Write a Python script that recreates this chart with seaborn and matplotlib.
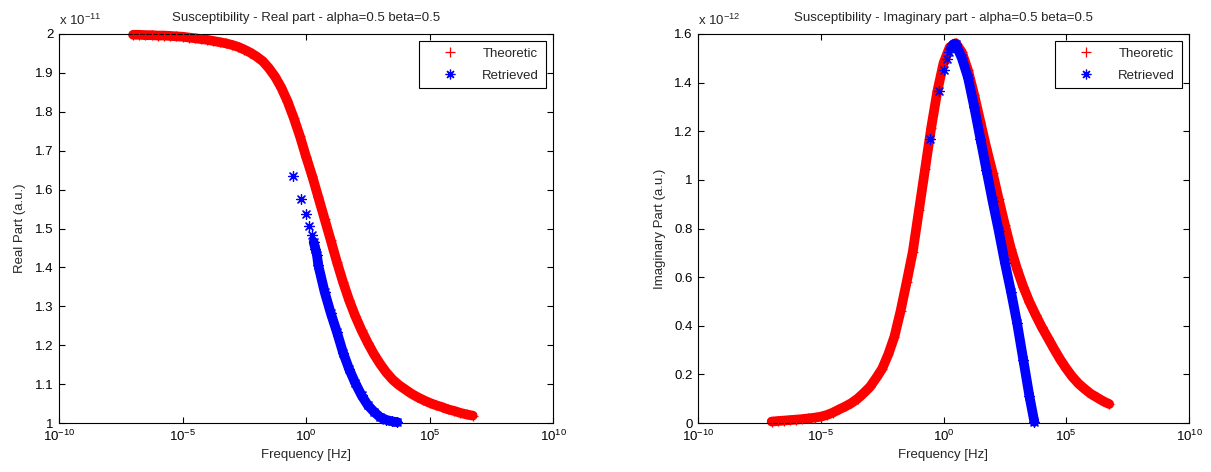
import numpy as np
import pandas as pd
import seaborn as sns
import matplotlib.pyplot as plt
from matplotlib.lines import Line2D
from matplotlib.ticker import FixedLocator, NullLocator

# log10(frequency) grid of the theoretic curves
theo_exp = [-7.0, -6.75, -6.5, -6.25, -6.0, -5.75, -5.5, -5.25, -5.0, -4.75,
            -4.5, -4.25, -4.0, -3.75, -3.5, -3.25, -3.0, -2.75, -2.5, -2.25,
            -2.0, -1.75, -1.5, -1.25, -1.0, -0.75, -0.5, -0.25, 0.0, 0.25,
            0.5, 0.75, 1.0, 1.25, 1.5, 1.75, 2.0, 2.25, 2.5, 2.75,
            3.0, 3.25, 3.5, 3.75, 4.0, 4.25, 4.5, 4.75, 5.0, 5.25,
            5.5, 5.75, 6.0, 6.25, 6.5, 6.75]
# real part, units of 1e-11
theo_real = [1.998, 1.998, 1.997, 1.997, 1.996, 1.996, 1.995, 1.994, 1.993, 1.991,
             1.989, 1.987, 1.985, 1.982, 1.979, 1.976, 1.972, 1.967, 1.960, 1.952,
             1.942, 1.930, 1.912, 1.890, 1.862, 1.827, 1.785, 1.738, 1.685, 1.635,
             1.580, 1.525, 1.470, 1.414, 1.362, 1.315, 1.274, 1.238, 1.206, 1.177,
             1.152, 1.130, 1.112, 1.098, 1.087, 1.076, 1.067, 1.059, 1.052, 1.046,
             1.041, 1.035, 1.031, 1.026, 1.022, 1.019]
# imaginary part, units of 1e-12
theo_imag = [0.006, 0.008, 0.010, 0.012, 0.014, 0.016, 0.019, 0.022, 0.026, 0.033,
             0.043, 0.056, 0.068, 0.082, 0.100, 0.123, 0.148, 0.184, 0.223, 0.282,
             0.355, 0.460, 0.580, 0.705, 0.875, 1.045, 1.215, 1.365, 1.480, 1.545,
             1.562, 1.525, 1.450, 1.350, 1.240, 1.130, 1.030, 0.920, 0.815, 0.715,
             0.632, 0.560, 0.498, 0.445, 0.395, 0.350, 0.305, 0.262, 0.224, 0.190,
             0.162, 0.140, 0.120, 0.105, 0.090, 0.078]

# retrieved values (first points are sparse, the rest forms a dense band)
retr_exp = [-0.54, -0.19, 0.0, 0.13, 0.23, 0.31, 0.38, 0.44, 0.5, 0.75, 1.0,
            1.25, 1.5, 1.75, 2.0, 2.25, 2.5, 2.75, 3.0, 3.25, 3.5, 3.7]
retr_real = [1.636, 1.576, 1.537, 1.506, 1.483, 1.465, 1.448, 1.433, 1.405, 1.338, 1.283,
             1.234, 1.181, 1.138, 1.102, 1.071, 1.046, 1.029, 1.015, 1.008, 1.004, 1.002]
retr_imag = [1.170, 1.367, 1.452, 1.497, 1.525, 1.545, 1.555, 1.560, 1.558, 1.500, 1.420,
             1.300, 1.170, 1.040, 0.912, 0.790, 0.660, 0.540, 0.410, 0.260, 0.110, 0.005]

x_ticks = [1e-10, 1e-5, 1e0, 1e5, 1e10]
x_ticklabels = ['$10^{-10}$', '$10^{-5}$', '$10^{0}$', '$10^{5}$', '$10^{10}$']
real_yticks = [1.0, 1.1, 1.2, 1.3, 1.4, 1.5, 1.6, 1.7, 1.8, 1.9, 2.0]
real_yticklabels = ['1', '1.1', '1.2', '1.3', '1.4', '1.5', '1.6', '1.7', '1.8', '1.9', '2']
imag_yticks = [0.0, 0.2, 0.4, 0.6, 0.8, 1.0, 1.2, 1.4, 1.6]
imag_yticklabels = ['0', '0.2', '0.4', '0.6', '0.8', '1', '1.2', '1.4', '1.6']

sns.set_style('white')
plt.rcParams['font.family'] = ['Liberation Sans', 'DejaVu Sans']
plt.rcParams['mathtext.fontset'] = 'custom'
plt.rcParams['mathtext.rm'] = 'Liberation Sans'
plt.rcParams['mathtext.it'] = 'Liberation Sans:italic'
plt.rcParams['mathtext.bf'] = 'Liberation Sans:bold'
plt.rcParams['mathtext.default'] = 'regular'
plt.rcParams['axes.edgecolor'] = 'black'
plt.rcParams['axes.linewidth'] = 0.8

FS = 9.5
BAND_FROM = 5

theo = pd.DataFrame({'freq': 10.0 ** np.array(theo_exp), 'real': theo_real, 'imag': theo_imag})
retr = pd.DataFrame({'freq': 10.0 ** np.array(retr_exp), 'real': retr_real, 'imag': retr_imag})

STAR = (8, 2, 0)


def draw_panel(ax, col, title, ylabel, yticks, yticklabels, ylim, mult):
    ax.set_xscale('log')
    # thick band under the markers to mimic the dense sampling
    sns.lineplot(data=theo, x='freq', y=col, ax=ax, color='red', linewidth=7.0,
                 solid_capstyle='round', solid_joinstyle='round', clip_on=False,
                 zorder=2, legend=False)
    sns.scatterplot(data=theo, x='freq', y=col, ax=ax, marker='+', color='red',
                    s=50, linewidth=0.9, clip_on=False, zorder=3, legend=False)
    sns.lineplot(data=retr.iloc[BAND_FROM:], x='freq', y=col, ax=ax, color='blue',
                 linewidth=7.0, solid_capstyle='round', solid_joinstyle='round',
                 clip_on=False, zorder=4, legend=False)
    sns.scatterplot(data=retr, x='freq', y=col, ax=ax, marker=STAR, color='blue',
                    s=50, linewidth=0.9, clip_on=False, zorder=5, legend=False)

    ax.set_xlim(1e-10, 1e10)
    ax.set_ylim(*ylim)
    ax.xaxis.set_major_locator(FixedLocator(x_ticks))
    ax.xaxis.set_minor_locator(NullLocator())
    ax.set_xticklabels(x_ticklabels)
    ax.set_yticks(yticks)
    ax.set_yticklabels(yticklabels)
    ax.tick_params(direction='in', bottom=True, left=True, top=True, right=True,
                   length=4, width=0.8, labelsize=FS, colors='black', pad=4)
    ax.set_xlabel('Frequency [Hz]', fontsize=FS)
    ax.set_ylabel(ylabel, fontsize=FS, labelpad=6)
    ax.set_title(title, fontsize=FS, pad=9)
    ax.annotate(mult, xy=(0, 1), xycoords='axes fraction', xytext=(0, 4),
                textcoords='offset points', ha='left', va='bottom', fontsize=FS)
    for sp in ax.spines.values():
        sp.set_visible(True)
        sp.set_color('black')

    handles = [Line2D([], [], color='red', marker='+', linestyle='none',
                      markersize=7, markeredgewidth=0.9, label='Theoretic'),
               Line2D([], [], color='blue', marker=STAR, linestyle='none',
                      markersize=7, markeredgewidth=0.9, label='Retrieved')]
    leg = ax.legend(handles=handles, loc='upper right', frameon=True, fancybox=False,
                    edgecolor='black', framealpha=1, fontsize=FS, handlelength=3.7,
                    handletextpad=0.6, borderpad=0.5, labelspacing=0.7,
                    borderaxespad=0.55)
    leg.get_frame().set_linewidth(0.8)


fig = plt.figure(figsize=(12.11, 4.72), dpi=100)
ax1 = fig.add_axes([59 / 1211, 49 / 472, 494 / 1211, 389 / 472])
ax2 = fig.add_axes([698 / 1211, 49 / 472, 491 / 1211, 389 / 472])

draw_panel(ax1, 'real', 'Susceptibility - Real part - alpha=0.5 beta=0.5',
           'Real Part (a.u.)', real_yticks, real_yticklabels, (1.0, 2.0), 'x 10$^{-11}$')
draw_panel(ax2, 'imag', 'Susceptibility - Imaginary part - alpha=0.5 beta=0.5',
           'Imaginary Part (a.u.)', imag_yticks, imag_yticklabels, (0.0, 1.6), 'x 10$^{-12}$')

fig.savefig('out.png', dpi=100)
plt.close(fig)
